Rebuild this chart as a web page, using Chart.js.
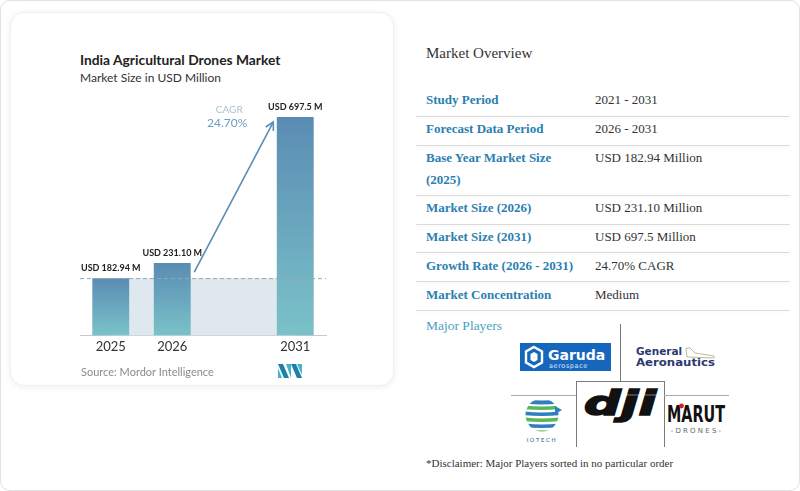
<!DOCTYPE html>
<html>
<head>
<meta charset="utf-8">
<script src="https://cdn.jsdelivr.net/npm/chart.js@4/dist/chart.umd.min.js"></script>
<style>
  html,body{margin:0;padding:0;background:#fff;}
  body{width:800px;height:491px;position:relative;overflow:hidden;font-family:"Liberation Serif","Times New Roman",serif;}
  .frame{position:absolute;left:0;top:0;width:798px;height:489px;border:1px solid #e2e2e2;border-radius:10px;}
  .card{position:absolute;left:10px;top:12px;width:382px;height:372px;border-radius:14px;background:#fff;box-shadow:0 1px 7px rgba(0,0,0,0.07);border:1px solid #f0f0f0;}
  #chart{position:absolute;left:0;top:0;}
  .ctitle{position:absolute;left:80px;top:51px;font-family:Lato,sans-serif;font-weight:700;font-size:13.8px;color:#222;white-space:nowrap;}
  .csub{position:absolute;left:80px;top:70px;font-family:Lato,sans-serif;font-size:12px;color:#333;white-space:nowrap;}
  .src{position:absolute;left:81px;top:365px;font-family:Lato,sans-serif;font-size:11px;color:#8a8a8a;white-space:nowrap;}
  .mo{position:absolute;left:426px;top:45px;font-size:15px;color:#333;}
  .row{position:absolute;left:416px;width:374px;}
  .row .lab{position:absolute;left:10px;font-weight:700;color:#2b80b1;font-size:13px;line-height:22px;}
  .row .val{position:absolute;left:179px;color:#333;font-size:13px;line-height:22px;}
  .sep{position:absolute;left:416px;width:374px;height:1px;background:#dcdcdc;box-shadow:0 1px 3px rgba(0,0,0,0.06);}
  .mp{position:absolute;left:426px;top:318px;font-size:13.5px;color:#4a9fc1;}
  .disc{position:absolute;left:426px;top:457px;font-size:11px;color:#333;white-space:nowrap;}
  .ln{position:absolute;background:#7a7a7a;}
</style>
</head>
<body>
<div class="frame"></div>
<div class="card"></div>
<div class="ctitle">India Agricultural Drones Market</div>
<div class="csub">Market Size in USD Million</div>
<canvas id="chart" width="400" height="400"></canvas>
<div class="src">Source: Mordor Intelligence</div>
<svg style="position:absolute;left:278px;top:364px" width="24" height="14" viewBox="0 0 24 14">
  <polygon points="0,0 5,0 11,14 6,14" fill="#1e7fa8"/>
  <polygon points="0,4 4,14 0,14" fill="#43b5c9"/>
  <polygon points="8,0 13,0 13,14" fill="#43b5c9"/>
  <polygon points="13,0 18,0 24,14 19,14" fill="#1e7fa8"/>
  <polygon points="19,0 24,0 24,11" fill="#43b5c9"/>
</svg>

<div class="mo">Market Overview</div>
<div id="table"></div>

<div class="mp">Major Players</div>
<!-- logo grid lines -->
<div class="ln" style="left:620px;top:324px;width:1px;height:57px;"></div>
<div class="ln" style="left:511px;top:395px;width:65px;height:1px;background:#aaa"></div>
<div class="ln" style="left:576px;top:381px;width:88px;height:1px;"></div>
<div class="ln" style="left:576px;top:381px;width:1px;height:66px;"></div>
<div class="ln" style="left:664px;top:381px;width:1px;height:66px;"></div>
<div class="ln" style="left:664px;top:395px;width:65px;height:1px;background:#aaa"></div>

<!-- Garuda -->
<svg style="position:absolute;left:520px;top:343px" width="91" height="28">
  <rect width="91" height="28" fill="#1766bd"/>
  <polygon points="14,4 22,8.5 22,19.5 14,24 6,19.5 6,8.5" fill="none" stroke="#fff" stroke-width="2.4"/>
  <polygon points="14,9 17.5,11 17.5,17 14,19 10.5,17 10.5,11" fill="#fff"/>
  <text x="28" y="17" font-family="DejaVu Sans" font-weight="bold" font-size="14" fill="#fff">Garuda</text>
  <text x="29" y="24.5" font-family="DejaVu Sans" font-size="6.5" fill="#dbe8f7" letter-spacing="0.6">aerospace</text>
</svg>
<!-- General Aeronautics -->
<svg style="position:absolute;left:634px;top:344px" width="84" height="26">
  <text x="2" y="11" font-family="DejaVu Sans" font-weight="bold" font-size="10.5" fill="#2b3a6f">General</text>
  <path d="M52,4 L56,4 L61,9 L80,12 L80,14 L53,13 Z" fill="none" stroke="#b9b28a" stroke-width="0.9"/>
  <text x="2" y="22" font-family="DejaVu Sans" font-weight="bold" font-size="11" fill="#2b3a6f" textLength="79" lengthAdjust="spacingAndGlyphs">Aeronautics</text>
</svg>
<!-- IOTECH -->
<svg style="position:absolute;left:522px;top:396px" width="44" height="48">
  <defs><clipPath id="gc"><circle cx="20" cy="19" r="16.5"/></clipPath></defs>
  <g clip-path="url(#gc)">
    <rect x="0" y="0" width="44" height="40" fill="#fff"/>
    <path d="M0,3 Q20,6 40,3 L40,7 Q20,10 0,7Z" fill="#2d7fc1"/>
    <path d="M0,9 Q20,12 40,9 L40,13 Q20,15 0,13Z" fill="#5bb75a"/>
    <path d="M0,15 Q20,18 40,15 L40,19 Q20,21 0,19Z" fill="#2d7fc1"/>
    <path d="M0,21 Q20,24 40,21 L40,25 Q20,27 0,25Z" fill="#5bb75a"/>
    <path d="M0,27 Q20,30 40,27 L40,31 Q20,33 0,31Z" fill="#2d7fc1"/>
    <path d="M0,33 Q20,36 40,33 L40,37 Q20,39 0,37Z" fill="#5bb75a"/>
  </g>
  <polygon points="33,10 40,14 33,18" fill="#2d7fc1"/>
  <text x="20" y="46" text-anchor="middle" font-family="DejaVu Sans" font-size="5.5" fill="#2c4d7a" letter-spacing="1.6">IOTECH</text>
</svg>
<!-- dji -->
<svg style="position:absolute;left:582px;top:388px" width="78" height="36">
  <text x="2" y="27" font-family="DejaVu Sans" font-weight="bold" font-style="italic" font-size="34" fill="#111" stroke="#111" stroke-width="1.6" textLength="72" lengthAdjust="spacingAndGlyphs">dji</text>
</svg>
<!-- MARUT -->
<svg style="position:absolute;left:666px;top:398px" width="62" height="38">
  <text x="1" y="24" font-family="Liberation Sans Narrow, DejaVu Sans Condensed, sans-serif" font-weight="bold" font-size="23" fill="#111" textLength="58" lengthAdjust="spacingAndGlyphs">MARUT</text>
  <circle cx="15.5" cy="8" r="2.4" fill="#d32020"/>
  <text x="31" y="35" text-anchor="middle" font-family="DejaVu Sans" font-size="7" fill="#666" letter-spacing="2.2">-DRONES-</text>
</svg>

<div class="disc">*Disclaimer: Major Players sorted in no particular order</div>

<script>
// ---- data ----
const categories = ['2025', '2026', '', '2031'];
const marketSize = [182.94, 231.10, null, 697.5];
const valueLabels = ['USD 182.94 M', 'USD 231.10 M', '', 'USD 697.5 M'];
const cagrTitle = 'CAGR';
const cagrValue = '24.70%';

const overviewLabels = ['Study Period', 'Forecast Data Period', 'Base Year Market Size (2025)', 'Market Size (2026)', 'Market Size (2031)', 'Growth Rate (2026 - 2031)', 'Market Concentration'];
const overviewValues = ['2021 - 2031', '2026 - 2031', 'USD 182.94 Million', 'USD 231.10 Million', 'USD 697.5 Million', '24.70% CAGR', 'Medium'];

// ---- overview table ----
(function(){
  const t = document.getElementById('table');
  const rowTops = [89, 118, 147, 197, 226, 255, 284];
  const sepTops = [116, 145, 195, 224, 252, 281, 310];
  overviewLabels.forEach((l, i) => {
    const r = document.createElement('div');
    r.className = 'row';
    r.style.top = rowTops[i] + 'px';
    if (i === 2) {
      r.innerHTML = '<div class="lab">Base Year Market Size</div><div class="lab" style="top:22px">(2025)</div><div class="val">' + overviewValues[i] + '</div>';
    } else {
      r.innerHTML = '<div class="lab">' + l + '</div><div class="val">' + overviewValues[i] + '</div>';
    }
    t.appendChild(r);
    const s = document.createElement('div');
    s.className = 'sep';
    s.style.top = sepTops[i] + 'px';
    t.appendChild(s);
  });
})();

// ---- chart ----
const bandAndArrow = {
  id: 'bandAndArrow',
  beforeDatasetsDraw(chart) {
    const ctx = chart.ctx, y = chart.scales.y, meta = chart.getDatasetMeta(0);
    const yBase = y.getPixelForValue(marketSize[0]);
    const y0 = y.getPixelForValue(0);
    const x1 = meta.data[0].x, x2 = meta.data[3].x;
    ctx.save();
    ctx.fillStyle = '#dfe8ef';
    ctx.fillRect(x1, yBase, x2 - x1, y0 - yBase);
    ctx.restore();
  },
  afterDatasetsDraw(chart) {
    const ctx = chart.ctx, y = chart.scales.y, meta = chart.getDatasetMeta(0);
    const a = chart.chartArea;
    const yBase = y.getPixelForValue(marketSize[0]);
    ctx.save();
    // dashed reference line
    ctx.strokeStyle = '#9aa6ae';
    ctx.lineWidth = 1;
    ctx.setLineDash([4, 3]);
    ctx.beginPath();
    ctx.moveTo(a.left, yBase + 0.5);
    ctx.lineTo(a.right, yBase + 0.5);
    ctx.stroke();
    ctx.setLineDash([]);
    // value labels
    ctx.fillStyle = '#222';
    ctx.font = 'bold 9px Lato';
    ctx.textAlign = 'center';
    ctx.textBaseline = 'middle';
    meta.data.forEach((el, i) => {
      if (marketSize[i] == null) return;
      ctx.fillText(valueLabels[i], el.x, el.y - 10);
    });
    // arrow
    const b1 = meta.data[1], b3 = meta.data[3];
    const sx = b1.x + 22, sy = b1.y + 9;
    const ex = b3.x - 22, ey = b3.y + 5;
    ctx.strokeStyle = '#5b8db4';
    ctx.lineWidth = 1.6;
    ctx.beginPath();
    ctx.moveTo(sx, sy);
    ctx.lineTo(ex, ey);
    ctx.stroke();
    const ang = Math.atan2(ey - sy, ex - sx);
    const L = 9;
    ctx.beginPath();
    ctx.moveTo(ex - L * Math.cos(ang - 0.5) , ey - L * Math.sin(ang - 0.5));
    ctx.lineTo(ex, ey);
    ctx.lineTo(ex - L * Math.cos(ang + 0.5), ey - L * Math.sin(ang + 0.5));
    ctx.stroke();
    // CAGR text
    ctx.textAlign = 'center';
    ctx.fillStyle = '#a6c2d3';
    ctx.font = '10px Lato';
    ctx.fillText(cagrTitle, b3.x - 66, b3.y - 7);
    ctx.fillStyle = '#6e9dbf';
    ctx.font = '12px Lato';
    ctx.fillText(cagrValue, b3.x - 68, b3.y + 6);
    ctx.restore();
  }
};

new Chart(document.getElementById('chart'), {
  type: 'bar',
  data: {
    labels: categories,
    datasets: [{
      data: marketSize,
      backgroundColor(c) {
        const chart = c.chart;
        const y = chart.scales.y;
        if (!y || c.raw == null) return '#6aa6bf';
        const top = y.getPixelForValue(c.raw), bot = y.getPixelForValue(0);
        if (!isFinite(top) || !isFinite(bot) || top === bot) return '#6aa6bf';
        const g = chart.ctx.createLinearGradient(0, top, 0, bot);
        g.addColorStop(0, '#5a8cb3');
        g.addColorStop(1, '#7ac2c9');
        return g;
      },
      borderWidth: 0,
      barPercentage: 0.6,
      categoryPercentage: 1.0
    }]
  },
  options: {
    responsive: false,
    devicePixelRatio: 1,
    animation: false,
    layout: { padding: { left: 80, right: 74, top: 100, bottom: 41 } },
    plugins: { legend: { display: false }, tooltip: { enabled: false } },
    scales: {
      x: {
        grid: { display: false, drawTicks: false },
        border: { color: '#c9c9c9', width: 1 },
        ticks: { color: '#333', font: { family: 'Lato', size: 13 }, padding: 4 }
      },
      y: { display: false, min: 0, max: 752 }
    }
  },
  plugins: [bandAndArrow]
});
</script>
</body>
</html>
